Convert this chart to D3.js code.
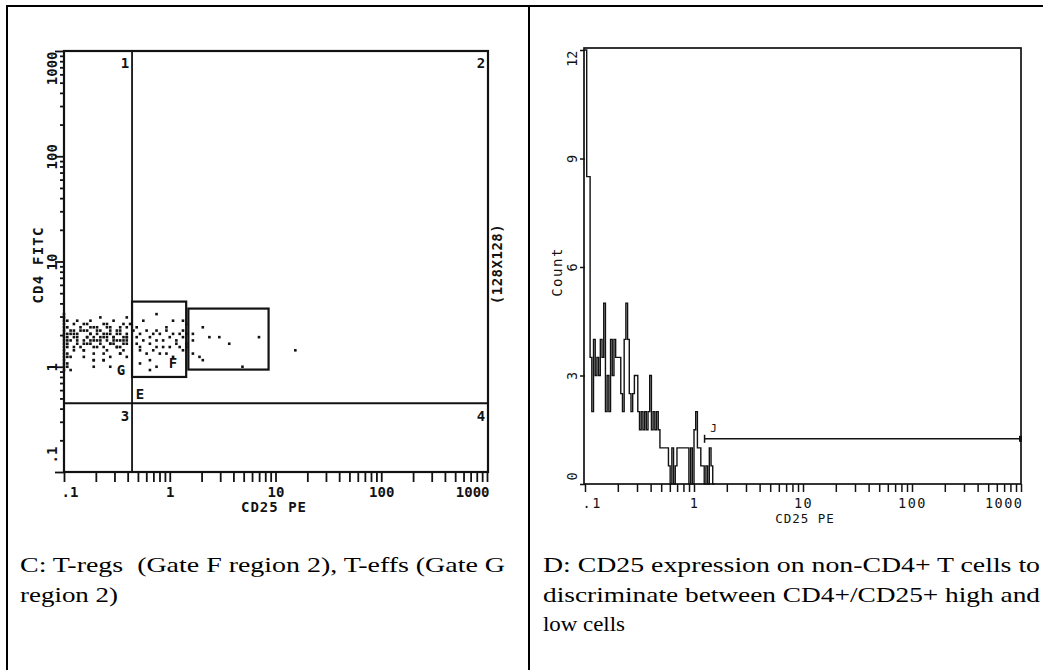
<!DOCTYPE html>
<html>
<head>
<meta charset="utf-8">
<script src="https://cdn.jsdelivr.net/npm/d3@7"></script>
<style>
  body { margin: 0; background: #fff; }
  .cap { white-space: pre; }
</style>
</head>
<body>
<div id="chart"></div>
<script>
// tick labels shared by both panels
var decades = [0.1, 1, 10, 100, 1000]
var decadeLabels = ['.1', '1', '10', '100', '1000']
var countTicks = [0, 3, 6, 9, 12]

// panel C: events as [CD25 channel, CD4 channel] on the 128x128 display (32 ch per decade, ch 0 = 0.1)
var edgeEvents = [
  [0, 31], [0, 32], [0, 33], [0, 34], [0, 35], [0, 36], [0, 37], [0, 38], [0, 39], [0, 40],
  [0, 41], [0, 42], [0, 43], [0, 44], [0, 45], [0, 46], [0, 47], [0, 48],
  [1, 32], [1, 33], [1, 35], [1, 36], [1, 38], [1, 39], [1, 40], [1, 41], [1, 42], [1, 44], [1, 46]
]
var gEvents = [
  [4, 46], [8, 46], [11, 47], [15, 46], [19, 47], [20, 45], [2, 43], [5, 44], [6, 45], [8, 44],
  [9, 44], [12, 45], [13, 45], [14, 44], [17, 44], [18, 45], [19, 44], [2, 42], [3, 43], [6, 43],
  [7, 43], [8, 42], [10, 43], [11, 43], [13, 42], [14, 43], [16, 42], [17, 43], [19, 42], [3, 41],
  [4, 42], [7, 41], [9, 41], [10, 42], [12, 41], [13, 41], [15, 41], [17, 42], [18, 41], [19, 41],
  [2, 40], [4, 40], [6, 39], [8, 40], [9, 40], [11, 39], [13, 40], [15, 39], [16, 40], [18, 40],
  [19, 40], [3, 38], [5, 38], [7, 39], [10, 38], [12, 38], [14, 39], [16, 38], [17, 38], [19, 39],
  [3, 37], [6, 37], [9, 36], [13, 37], [17, 36], [18, 37], [2, 35], [6, 35], [9, 34], [12, 34],
  [14, 35], [19, 35], [2, 31], [9, 32], [14, 32],
  [3, 45], [5, 43], [7, 45], [8, 42], [10, 44], [12, 42], [13, 44], [15, 40], [16, 43], [18, 39],
  [19, 41], [4, 39], [6, 37], [9, 38], [12, 36], [16, 38], [17, 36], [9, 34], [12, 34], [4, 41],
  [6, 40], [8, 39], [11, 40], [14, 39], [15, 41], [17, 40], [3, 42], [7, 41], [11, 41], [14, 42],
  [10, 40]
]
var fEvents = [
  [28, 48], [24, 46], [22, 44], [28, 43], [33, 46], [31, 44], [36, 46], [21, 43], [23, 42], [25, 43],
  [27, 42], [29, 42], [31, 43], [33, 42], [35, 42], [36, 43], [22, 41], [24, 40], [26, 41], [28, 40],
  [30, 40], [32, 41], [34, 40], [36, 41], [22, 39], [23, 38], [26, 39], [28, 38], [30, 38], [32, 38],
  [34, 39], [35, 38], [36, 37], [23, 37], [25, 36], [27, 37], [29, 36], [31, 36], [23, 33], [26, 31],
  [28, 32], [26, 34], [33, 35], [37, 45], [37, 42], [37, 39], [37, 38]
]
var highEvents = [
  [42, 44], [39, 42], [44, 41], [47, 41], [39, 40], [50, 39], [59, 41], [39, 36], [41, 35], [42, 34],
  [54, 32], [70, 37]
]

// quadrant cross and gate boxes (CD25 PE, CD4 FITC)
var quadrant = { cd25: 0.44, cd4: 0.45 }
var gateBoxes = [
  { x0: 0.44, x1: 1.43, y0: 0.80, y1: 4.16 },
  { x0: 1.50, x1: 8.6, y0: 0.94, y1: 3.57 }
]
var gateLabels = [
  { text: 'G', cd25: 0.346, cd4: 0.93 },
  { text: 'F', cd25: 1.07, cd4: 1.085 },
  { text: 'E', cd25: 0.523, cd4: 0.55 }
]
var quadrantLabels = ['1', '2', '3', '4']

// panel D: counts per channel, 64 channels per decade starting at 0.1
var counts = [
  12, 8.5, 8.5, 3.5, 2, 4, 3, 3.5, 3, 4,
  3.5, 5, 2, 3, 2, 4, 3, 4, 3.5, 3.5,
  3.5, 2.5, 2, 4, 5, 4, 2.5, 2, 2.5, 3,
  3, 2, 1.5, 2, 1.5, 2, 1.5, 2, 3, 1.5,
  2, 1.5, 2, 1.5, 1, 1, 1, 1, 1, 0.5,
  0, 1, 0, 0.5, 1, 1, 1, 1, 1, 1,
  1, 0, 1, 0, 1.5, 2, 1, 1, 0.5, 0.5,
  0, 0.5, 0, 1, 0.5, 0
]
var jGate = { label: 'J', from: 1.25, to: 1000, level: 1.25 }

var captionC = ['C: T-regs  (Gate F region 2), T-effs (Gate G', 'region 2)']
var captionD = ['D: CD25 expression on non-CD4+ T cells to', 'discriminate between CD4+/CD25+ high and', 'low cells']

var ink = '#121212'
var plotFont = 'DejaVu Sans Mono'

var svg = d3.select('#chart')
  .append('svg')
  .attr('width', 1043)
  .attr('height', 670)

// table rules
svg.append('path')
  .attr('d', 'M7,670 V6 H1043 M529,6 V670')
  .attr('fill', 'none')
  .attr('stroke', '#000')
  .attr('stroke-width', 2)

// all log ticks between .1 and 1000
var logTicks = []
decades.slice(0, 4).forEach(function(d) {
  for (var m = 1; m < 10; m++) logTicks.push(+(d * m).toPrecision(3))
})
logTicks.push(1000)

function tickLabel(v) {
  var i = decades.indexOf(v)
  return i >= 0 ? decadeLabels[i] : ''
}
function chValue(ch, perDecade) {
  return 0.1 * Math.pow(10, ch / perDecade)
}

// ---------- panel C ----------
var xL = d3.scaleLog().domain([0.1, 1000]).range([64, 487])
var yL = d3.scaleLog().domain([0.1, 1000]).range([472, 51])

var left = svg.append('g')
  .attr('font-family', plotFont)
  .attr('font-weight', 'bold')
  .attr('fill', ink)

var xAxisL = d3.axisBottom(xL).tickValues(logTicks).tickSize(10).tickFormat(tickLabel)
var gxL = left.append('g')
  .attr('transform', 'translate(0,472)')
  .call(xAxisL)
gxL.select('.domain').remove()
gxL.selectAll('line').attr('stroke', ink).attr('stroke-width', 1.8)
gxL.selectAll('text')
  .attr('font-size', 14)
  .attr('font-family', plotFont)
  .attr('font-weight', 'bold')
  .attr('fill', ink)
  .attr('y', 20)
  .attr('dy', '0.35em')
  .attr('text-anchor', function(d) { return d === 0.1 ? 'start' : d === 1000 ? 'end' : 'middle' })
  .attr('x', function(d) { return d === 0.1 ? -3 : d === 1000 ? 2 : 0 })

var yAxisL = d3.axisLeft(yL).tickValues(logTicks).tickSize(4).tickFormat(tickLabel)
var gyL = left.append('g')
  .attr('transform', 'translate(64,0)')
  .call(yAxisL)
gyL.select('.domain').remove()
gyL.selectAll('line')
  .attr('stroke', ink)
  .attr('stroke-width', 1.8)
  .attr('x2', function(d) { return decades.indexOf(d) >= 0 ? -9 : -4 })
gyL.selectAll('text')
  .attr('font-size', 14)
  .attr('font-family', plotFont)
  .attr('font-weight', 'bold')
  .attr('fill', ink)
  .attr('transform', 'rotate(-90)')
  .attr('y', -12)
  .attr('dy', '0.35em')
  .attr('x', function(d) { return d === 0.1 ? 9 : 0 })
  .attr('text-anchor', function(d) { return d === 0.1 ? 'start' : d === 1000 ? 'end' : 'middle' })

// quadrant cross
left.append('line')
  .attr('x1', xL(quadrant.cd25)).attr('x2', xL(quadrant.cd25))
  .attr('y1', yL(1000)).attr('y2', yL(0.1))
  .attr('stroke', ink).attr('stroke-width', 1.8)
left.append('line')
  .attr('x1', xL(0.1)).attr('x2', xL(1000))
  .attr('y1', yL(quadrant.cd4)).attr('y2', yL(quadrant.cd4))
  .attr('stroke', ink).attr('stroke-width', 1.8)

// gate boxes
left.selectAll('.gate')
  .data(gateBoxes)
  .enter()
  .append('rect')
  .attr('class', 'gate')
  .attr('x', d => xL(d.x0))
  .attr('y', d => yL(d.y1))
  .attr('width', d => xL(d.x1) - xL(d.x0))
  .attr('height', d => yL(d.y0) - yL(d.y1))
  .attr('fill', 'none')
  .attr('stroke', ink)
  .attr('stroke-width', 2.2)

// events
var allEvents = edgeEvents.concat(gEvents, fEvents, highEvents)
left.selectAll('.event')
  .data(allEvents)
  .enter()
  .append('rect')
  .attr('class', 'event')
  .attr('x', d => xL(chValue(d[0], 32)) - 1.3)
  .attr('y', d => yL(chValue(d[1], 32)) - 1.3)
  .attr('width', 2.6)
  .attr('height', 2.6)
  .attr('fill', ink)

// frame
left.append('rect')
  .attr('x', xL(0.1)).attr('y', yL(1000))
  .attr('width', xL(1000) - xL(0.1) + 1)
  .attr('height', yL(0.1) - yL(1000))
  .attr('fill', 'none')
  .attr('stroke', ink)
  .attr('stroke-width', 2.2)

// region labels
left.selectAll('.glabel')
  .data(gateLabels)
  .enter()
  .append('text')
  .attr('class', 'glabel')
  .attr('x', d => xL(d.cd25))
  .attr('y', d => yL(d.cd4))
  .attr('dy', '0.35em')
  .attr('text-anchor', 'middle')
  .attr('font-size', 14)
  .text(d => d.text)

var qx = [xL(quadrant.cd25) - 7, xL(1000) - 6]
var qy = [yL(1000) + 12, yL(quadrant.cd4) + 13]
left.selectAll('.qlabel')
  .data(quadrantLabels)
  .enter()
  .append('text')
  .attr('class', 'qlabel')
  .attr('x', (d, i) => qx[i % 2])
  .attr('y', (d, i) => qy[Math.floor(i / 2)])
  .attr('dy', '0.35em')
  .attr('text-anchor', 'middle')
  .attr('font-size', 14)
  .text(d => d)

left.append('text')
  .attr('transform', 'translate(38,265) rotate(-90)')
  .attr('text-anchor', 'middle')
  .attr('dy', '0.35em')
  .attr('font-size', 14)
  .attr('letter-spacing', 1.2)
  .text('CD4 FITC')

left.append('text')
  .attr('transform', 'translate(497,264) rotate(-90)')
  .attr('text-anchor', 'middle')
  .attr('dy', '0.35em')
  .attr('font-size', 14)
  .attr('letter-spacing', 0.5)
  .text('(128X128)')

left.append('text')
  .attr('x', 274)
  .attr('y', 507)
  .attr('dy', '0.35em')
  .attr('text-anchor', 'middle')
  .attr('font-size', 14)
  .attr('letter-spacing', 1)
  .text('CD25 PE')

// ---------- panel D ----------
var xR = d3.scaleLog().domain([0.1, 1000]).range([585, 1021])
var yR = d3.scaleLinear().domain([0, 12]).range([484, 50])

var right = svg.append('g')
  .attr('font-family', plotFont)
  .attr('fill', ink)

var xAxisR = d3.axisBottom(xR).tickValues(logTicks).tickSize(8).tickFormat(tickLabel)
var gxR = right.append('g')
  .attr('transform', 'translate(0,484)')
  .call(xAxisR)
gxR.select('.domain').remove()
gxR.selectAll('line').attr('stroke', ink).attr('stroke-width', 1.5)
gxR.selectAll('text')
  .attr('font-size', 13.5)
  .attr('font-family', plotFont)
  .attr('fill', ink)
  .attr('letter-spacing', 1.5)
  .attr('y', 19)
  .attr('dy', '0.35em')
  .attr('text-anchor', function(d) { return d === 0.1 ? 'start' : d === 1000 ? 'end' : 'middle' })
  .attr('x', function(d) { return d === 0.1 ? -3 : d === 1000 ? 2 : 0 })

var yAxisR = d3.axisLeft(yR).tickValues(countTicks).tickSize(5)
var gyR = right.append('g')
  .attr('transform', 'translate(585,0)')
  .call(yAxisR)
gyR.select('.domain').remove()
gyR.selectAll('line').attr('stroke', ink).attr('stroke-width', 1.5)
gyR.selectAll('text')
  .attr('font-size', 13.5)
  .attr('font-family', plotFont)
  .attr('fill', ink)
  .attr('transform', 'rotate(-90)')
  .attr('y', -13)
  .attr('dy', '0.35em')
  .attr('x', function(d) { return d === 0 ? 4 : 0 })
  .attr('text-anchor', function(d) { return d === 0 ? 'start' : d === 12 ? 'end' : 'middle' })

// histogram as a step line
var steps = counts.map((c, i) => [chValue(i, 64), c])
steps.push([chValue(counts.length, 64), 0])
var stepLine = d3.line()
  .x(d => xR(d[0]))
  .y(d => yR(d[1]))
  .curve(d3.curveStepAfter)
right.append('path')
  .datum(steps)
  .attr('d', stepLine)
  .attr('fill', 'none')
  .attr('stroke', ink)
  .attr('stroke-width', 1.4)

// frame
right.append('rect')
  .attr('x', xR(0.1) - 1).attr('y', yR(12) - 2)
  .attr('width', xR(1000) - xR(0.1) + 1)
  .attr('height', yR(0) - yR(12) + 2)
  .attr('fill', 'none')
  .attr('stroke', ink)
  .attr('stroke-width', 1.7)

// marker J
right.append('line')
  .attr('x1', xR(jGate.from)).attr('x2', xR(jGate.to))
  .attr('y1', yR(jGate.level)).attr('y2', yR(jGate.level))
  .attr('stroke', ink).attr('stroke-width', 1.6)
right.append('line')
  .attr('x1', xR(jGate.from)).attr('x2', xR(jGate.from))
  .attr('y1', yR(jGate.level) - 4).attr('y2', yR(jGate.level) + 4)
  .attr('stroke', ink).attr('stroke-width', 1.5)
right.append('rect')
  .attr('x', xR(jGate.to) - 2).attr('y', yR(jGate.level) - 3)
  .attr('width', 3).attr('height', 6)
  .attr('fill', ink)
right.append('text')
  .attr('x', xR(jGate.from) + 9)
  .attr('y', yR(jGate.level) - 11)
  .attr('dy', '0.35em')
  .attr('text-anchor', 'middle')
  .attr('font-size', 11)
  .text(jGate.label)

right.append('text')
  .attr('transform', 'translate(557,272) rotate(-90)')
  .attr('text-anchor', 'middle')
  .attr('dy', '0.35em')
  .attr('font-size', 14)
  .attr('letter-spacing', 1.5)
  .text('Count')

right.append('text')
  .attr('x', 805)
  .attr('y', 519)
  .attr('dy', '0.35em')
  .attr('text-anchor', 'middle')
  .attr('font-size', 12.5)
  .attr('letter-spacing', 1)
  .text('CD25 PE')

// ---------- captions ----------
var capC = [485, 98]
var capD = [497, 497, 82]
svg.selectAll('.capC')
  .data(captionC)
  .enter()
  .append('text')
  .attr('class', 'cap')
  .attr('x', 20)
  .attr('y', (d, i) => 572 + i * 29.5)
  .attr('font-family', 'Liberation Serif')
  .attr('font-size', 21.5)
  .attr('textLength', (d, i) => capC[i])
  .attr('lengthAdjust', 'spacingAndGlyphs')
  .text(d => d)

svg.selectAll('.capD')
  .data(captionD)
  .enter()
  .append('text')
  .attr('class', 'cap')
  .attr('x', 543)
  .attr('y', (d, i) => 572 + i * 29.5)
  .attr('font-family', 'Liberation Serif')
  .attr('font-size', 21.5)
  .attr('textLength', (d, i) => capD[i])
  .attr('lengthAdjust', 'spacingAndGlyphs')
  .text(d => d)
</script>
</body>
</html>
